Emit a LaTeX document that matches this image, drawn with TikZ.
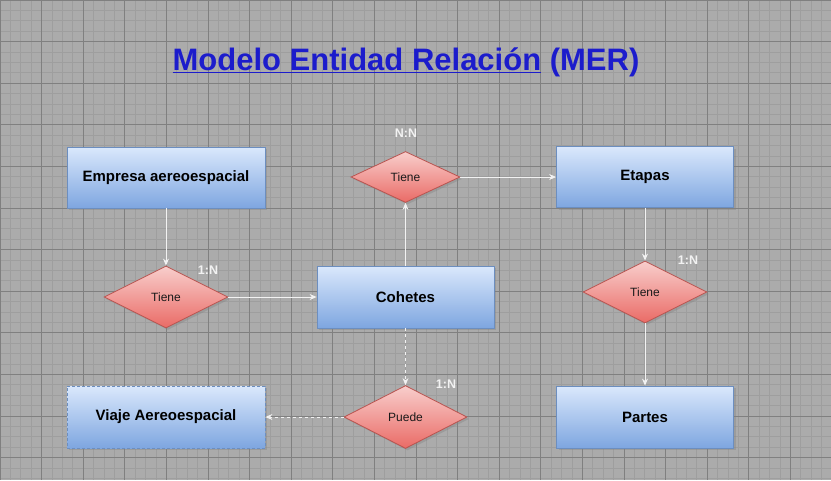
\documentclass[tikz,border=0pt]{standalone}
\usepackage{fontspec}
\setmainfont{Liberation Sans}
\usetikzlibrary{shapes.geometric, arrows.meta, positioning, shadows}
\usepackage{xcolor}
\definecolor{gridbg}{RGB}{171,171,171}
\definecolor{gridminor}{RGB}{158,158,158}
\definecolor{gridmajor}{RGB}{128,128,128}
\definecolor{entitytop}{RGB}{218,232,252}
\definecolor{entitybot}{RGB}{126,166,224}
\definecolor{entityborder}{RGB}{108,142,191}
\definecolor{reltop}{RGB}{248,206,204}
\definecolor{relbot}{RGB}{234,107,102}
\definecolor{relborder}{RGB}{184,84,80}
\definecolor{arrowcolor}{RGB}{242,242,242}
\definecolor{titlecolor}{RGB}{28,28,204}

\begin{document}
\begin{tikzpicture}[x=1pt, y=-1pt,
  % Node styles
  entitybox/.style={
    rectangle,
    draw=entityborder,
    line width=0.8pt,
    top color=entitytop,
    bottom color=entitybot,
    drop shadow={opacity=0.35, shadow xshift=2pt, shadow yshift=-2pt},
    align=center,
    font=\fontsize{15}{17}\selectfont\bfseries,
    inner sep=2pt
  },
  relbox/.style={
    diamond,
    draw=relborder,
    line width=0.8pt,
    top color=reltop,
    bottom color=relbot,
    drop shadow={opacity=0.35, shadow xshift=2pt, shadow yshift=-2pt},
    align=center,
    text=black!90,
    font=\fontsize{12}{14}\selectfont,
    inner sep=0pt
  },
  cardlabel/.style={
    text=arrowcolor,
    font=\fontsize{12.5}{14}\selectfont\bfseries,
    inner sep=1pt
  },
  arrow/.style={
    -{Stealth[length=7pt, width=6pt]},
    line width=0.8pt,
    draw=arrowcolor
  },
  dasharrow/.style={
    -{Stealth[length=7pt, width=6pt]},
    line width=0.8pt,
    draw=arrowcolor,
    dash pattern=on 3pt off 3pt
  }
]

\useasboundingbox (0,0) rectangle (831,480);

% ===== GRID =====
\fill[gridbg] (0,0) rectangle (831,480);
\foreach \i in {0,...,80} {
  \draw[gridminor, line width=0.7pt] (\i*10.4,0) -- (\i*10.4,480);
}
\foreach \j in {0,...,46} {
  \draw[gridminor, line width=0.7pt] (0,\j*10.4) -- (831,\j*10.4);
}
\foreach \i in {0,...,20} {
  \draw[gridmajor, line width=0.7pt] (\i*41.6,0) -- (\i*41.6,480);
}
\foreach \j in {0,...,11} {
  \draw[gridmajor, line width=0.7pt] (0,\j*41.6) -- (831,\j*41.6);
}

% ===== TITLE =====
\node[text=titlecolor, font=\fontsize{31}{34}\selectfont\bfseries]
      (title) at (406,62) {\underline{Modelo Entidad Relación} (MER)};

% ===== ENTITIES =====
\node[entitybox, minimum width=198pt, minimum height=61pt] (empresa) at (166,177.5) {Empresa aereoespacial};
\node[entitybox, minimum width=177pt, minimum height=61pt] (etapas) at (645,177) {Etapas};
\node[entitybox, minimum width=177pt, minimum height=62pt] (cohetes) at (405.5,297) {Cohetes};
\node[entitybox, minimum width=198pt, minimum height=62pt, dash pattern=on 3pt off 2pt] (viaje) at (166,417) {Viaje Aereoespacial};
\node[entitybox, minimum width=177pt, minimum height=62pt] (partes) at (645,417) {Partes};

% ===== RELATIONS =====
\node[relbox, minimum width=109pt, minimum height=51pt] (tiene_nn) at (405.5,177) {Tiene};
\node[relbox, minimum width=124pt, minimum height=62pt] (tiene_emp) at (166,297) {Tiene};
\node[relbox, minimum width=124pt, minimum height=62pt] (tiene_eta) at (645,292) {Tiene};
\node[relbox, minimum width=123pt, minimum height=63pt] (puede) at (405.5,417) {Puede};

% ===== CARDINALITIES =====
\node[cardlabel] (c_nn) at (406,133) {N:N};
\node[cardlabel] (c_emp) at (208,270) {1:N};
\node[cardlabel] (c_eta) at (688,260) {1:N};
\node[cardlabel] (c_puede) at (446,384) {1:N};

% ===== ARROWS =====
\draw[arrow] (empresa.south) -- (tiene_emp.north);
\draw[arrow] (tiene_emp.east) -- (cohetes.west);
\draw[arrow] (cohetes.north) -- (tiene_nn.south);
\draw[arrow] (tiene_nn.east) -- (etapas.west);
\draw[arrow] (etapas.south) -- (tiene_eta.north);
\draw[arrow] (tiene_eta.south) -- (partes.north);

\draw[dasharrow] (cohetes.south) -- (puede.north);
\draw[dasharrow] (puede.west) -- (viaje.east);

\end{tikzpicture}
\end{document}
